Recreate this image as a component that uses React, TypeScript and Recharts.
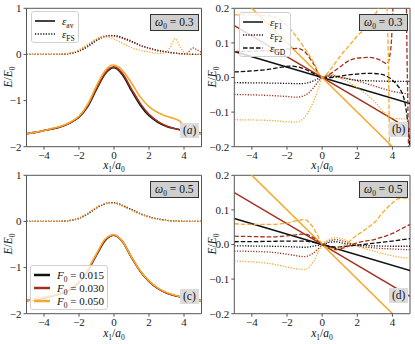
import React from "react";
import { LineChart, Line, XAxis, YAxis, ReferenceLine } from "recharts";

type Pt = [number, number];

const X_TICKS = [-4, -2, 0, 2, 4];
const ENERGY_TICKS = [-2, -1, 0, 1];
const FIELD_TICKS = [-0.2, -0.1, 0, 0.1, 0.2];
const F0_LABELS = ["0.015", "0.030", "0.050"];
const OMEGA_LABELS = ["0.3", "0.5"];
const PANEL_TAGS = ["a", "b", "c", "d"];

const BLACK = "#111111";
const RED = "#a3301e";
const ORANGE = "#f7a82a";
const COLORS = [BLACK, RED, ORANGE];
const FONT = "Liberation Serif";

// (a) omega0 = 0.3, averaged energy
const avA015: Pt[] = [[-5, -1.72], [-4.5, -1.69], [-4, -1.65], [-3.5, -1.61], [-3, -1.56], [-2.5, -1.48], [-2, -1.36], [-1.5, -1.13], [-1, -0.76], [-0.5, -0.42], [0, -0.29], [0.5, -0.45], [1, -0.79], [1.5, -1.1], [2, -1.33], [2.5, -1.47], [3, -1.56], [3.5, -1.61], [4, -1.65], [4.5, -1.69], [5, -1.72]];
const avA030: Pt[] = [[-5, -1.72], [-4.5, -1.69], [-4, -1.65], [-3.5, -1.61], [-3, -1.56], [-2.5, -1.48], [-2, -1.35], [-1.5, -1.11], [-1, -0.74], [-0.5, -0.4], [0, -0.27], [0.5, -0.42], [1, -0.75], [1.5, -1.06], [2, -1.3], [2.5, -1.45], [3, -1.55], [3.5, -1.61], [4, -1.65], [4.5, -1.69], [5, -1.71]];
const avA050: Pt[] = [[-5, -1.72], [-4.5, -1.69], [-4, -1.65], [-3.5, -1.6], [-3, -1.55], [-2.5, -1.47], [-2, -1.34], [-1.5, -1.08], [-1, -0.68], [-0.5, -0.35], [-0.1, -0.23], [0.3, -0.28], [0.7, -0.45], [1, -0.62], [1.5, -0.92], [2, -1.13], [2.5, -1.26], [3, -1.34], [3.5, -1.4], [3.8, -1.46], [4, -1.6], [4.2, -1.69], [4.6, -1.71], [5, -1.72]];
// (a) frozen-state energy
const fsA015: Pt[] = [[-5, 0], [-3.5, 0], [-3, 0.005], [-2.5, 0.02], [-2, 0.07], [-1.5, 0.17], [-1, 0.3], [-0.5, 0.39], [-0.2, 0.41], [0.2, 0.4], [0.6, 0.35], [1, 0.29], [1.5, 0.2], [2, 0.14], [2.5, 0.09], [3, 0.055], [3.5, 0.03], [4, 0.012], [4.5, 0.004], [5, 0]];
const fsA030: Pt[] = [[-5, 0], [-3.5, 0], [-3, 0.006], [-2.5, 0.025], [-2, 0.08], [-1.5, 0.19], [-1, 0.32], [-0.5, 0.4], [-0.2, 0.405], [0.2, 0.38], [0.6, 0.33], [1, 0.27], [1.5, 0.19], [2, 0.13], [2.5, 0.08], [3, 0.05], [3.5, 0.025], [4, 0.01], [4.2, 0.03], [4.5, 0.14], [4.75, 0.1], [5, 0.04]];
const fsA050: Pt[] = [[-5, 0], [-3.5, 0], [-3, 0.01], [-2.5, 0.035], [-2, 0.1], [-1.5, 0.22], [-1, 0.34], [-0.6, 0.38], [-0.2, 0.36], [0.2, 0.3], [0.6, 0.22], [1, 0.15], [1.5, 0.09], [2, 0.05], [2.5, 0.025], [2.9, 0.03], [3.2, 0.15], [3.5, 0.34], [3.8, 0.15], [4.1, 0.02], [4.5, 0.002], [5, 0]];

// (c) omega0 = 0.5
const avC015: Pt[] = [[-5, -1.72], [-4.5, -1.69], [-4, -1.66], [-3.5, -1.61], [-3, -1.56], [-2.5, -1.47], [-2, -1.32], [-1.5, -1.07], [-1, -0.73], [-0.5, -0.41], [0, -0.3], [0.5, -0.44], [1, -0.78], [1.5, -1.08], [2, -1.3], [2.5, -1.45], [3, -1.55], [3.5, -1.61], [4, -1.65], [4.5, -1.69], [5, -1.72]];
const avC030: Pt[] = [[-5, -1.72], [-4.5, -1.69], [-4, -1.66], [-3.5, -1.61], [-3, -1.56], [-2.5, -1.47], [-2, -1.32], [-1.5, -1.06], [-1, -0.72], [-0.5, -0.4], [0, -0.3], [0.5, -0.45], [1, -0.78], [1.5, -1.08], [2, -1.3], [2.5, -1.45], [3, -1.55], [3.5, -1.61], [4, -1.65], [4.5, -1.69], [5, -1.72]];
const avC050: Pt[] = [[-5, -1.72], [-4.5, -1.68], [-4, -1.64], [-3.5, -1.6], [-3, -1.54], [-2.5, -1.45], [-2, -1.3], [-1.5, -1.04], [-1, -0.7], [-0.5, -0.38], [0, -0.29], [0.5, -0.44], [1, -0.77], [1.5, -1.07], [2, -1.29], [2.5, -1.44], [3, -1.54], [3.5, -1.6], [4, -1.65], [4.5, -1.69], [5, -1.72]];
const fsC015: Pt[] = [[-5, 0], [-3.5, 0], [-3, 0.005], [-2.5, 0.02], [-2, 0.065], [-1.5, 0.16], [-1, 0.29], [-0.5, 0.38], [-0.2, 0.41], [0.2, 0.39], [0.6, 0.33], [1, 0.26], [1.5, 0.17], [2, 0.1], [2.5, 0.055], [3, 0.025], [3.5, 0.01], [4, 0.003], [5, 0]];
const fsC030: Pt[] = [[-5, 0], [-3.5, 0], [-3, 0.006], [-2.5, 0.022], [-2, 0.07], [-1.5, 0.17], [-1, 0.3], [-0.5, 0.385], [-0.2, 0.405], [0.2, 0.385], [0.6, 0.32], [1, 0.25], [1.5, 0.165], [2, 0.1], [2.5, 0.05], [3, 0.022], [3.5, 0.008], [4, 0.002], [5, 0]];
const fsC050: Pt[] = [[-5, 0], [-3.5, 0], [-3, 0.008], [-2.5, 0.026], [-2, 0.08], [-1.5, 0.18], [-1, 0.31], [-0.5, 0.39], [-0.2, 0.4], [0.2, 0.375], [0.6, 0.31], [1, 0.24], [1.5, 0.155], [2, 0.09], [2.5, 0.045], [3, 0.02], [3.5, 0.006], [4, 0.001], [5, 0]];

// (b) omega0 = 0.3, field estimates
const f1B015: Pt[] = [[-5, 0.075], [5, -0.075]];
const f1B030: Pt[] = [[-5, 0.15], [5, -0.15]];
const f1B050: Pt[] = [[-5, 0.25], [5, -0.25]];
const f2B015: Pt[] = [[-5, -0.015], [-3, -0.016], [-2, -0.017], [-1.2, -0.018], [-0.6, -0.012], [-0.2, -0.003], [0, 0], [0.4, 0.004], [1, 0], [2, -0.008], [3, -0.01], [4, -0.011], [5, -0.011]];
const f2B030: Pt[] = [[-5, -0.049], [-3, -0.052], [-2, -0.055], [-1.5, -0.057], [-1, -0.052], [-0.5, -0.03], [-0.2, -0.01], [0, 0], [0.5, 0.006], [1, 0.002], [2, -0.01], [3, -0.025], [4, -0.04], [5, -0.048]];
const f2B050: Pt[] = [[-5, -0.122], [-3, -0.124], [-2, -0.128], [-1.5, -0.129], [-1, -0.115], [-0.5, -0.07], [-0.2, -0.03], [0, 0], [0.5, 0.01], [1, 0], [2, -0.03], [3, -0.07], [3.5, -0.1], [4, -0.118], [5, -0.12]];
const gdB015: Pt[] = [[-5, 0.016], [-4, 0.019], [-3, 0.024], [-2.3, 0.03], [-1.8, 0.033], [-1.2, 0.028], [-0.6, 0.015], [0, 0], [0.5, 0], [1, 0.004], [2, 0.01], [2.7, 0.012], [3.3, 0.01], [3.8, 0], [4.2, -0.018], [4.5, -0.04], [4.7, -0.07], [4.85, -0.12], [5, -0.2]];
const gdB030: Pt[] = [[-5, 0.075], [-4, 0.076], [-3, 0.078], [-2, 0.082], [-1.4, 0.084], [-1, 0.075], [-0.5, 0.04], [0, 0], [0.5, 0.012], [1, 0.03], [1.5, 0.048], [2, 0.056], [2.7, 0.058], [3.3, 0.05], [3.7, 0.04], [3.9, 0.08], [4, 0.16], [4.1, 0.3], [4.75, 0.3], [4.85, 0], [4.95, -0.3]];
const gdB050: Pt[] = [[-5, 0.181], [-4, 0.181], [-3, 0.178], [-2.5, 0.17], [-2, 0.15], [-1.5, 0.12], [-1, 0.085], [-0.5, 0.045], [0, 0], [0.5, 0.025], [1, 0.06], [1.5, 0.09], [2, 0.12], [2.5, 0.145], [3, 0.18], [3.3, 0.22], [3.5, 0.35], [3.75, 0.1], [3.85, -0.3]];

// (d) omega0 = 0.5, field estimates
const f1D015: Pt[] = [[-5, 0.075], [5, -0.075]];
const f1D030: Pt[] = [[-5, 0.15], [5, -0.15]];
const f1D050: Pt[] = [[-5, 0.25], [5, -0.25]];
const f2D015: Pt[] = [[-5, -0.004], [-3, -0.005], [-2, -0.006], [-1, -0.008], [-0.5, -0.005], [0, 0], [0.4, 0.006], [0.8, 0.008], [1.2, 0.004], [2, -0.002], [3, -0.004], [4, -0.005], [5, -0.005]];
const f2D030: Pt[] = [[-5, -0.019], [-3, -0.022], [-2, -0.028], [-1, -0.035], [-0.5, -0.025], [0, -0.002], [0.4, 0.01], [0.8, 0.014], [1.2, 0.01], [2, -0.004], [3, -0.01], [4, -0.013], [5, -0.015]];
const f2D050: Pt[] = [[-5, -0.048], [-4, -0.05], [-3, -0.055], [-2, -0.065], [-1.5, -0.07], [-1, -0.072], [-0.5, -0.05], [-0.2, -0.02], [0, 0], [0.4, 0.015], [0.8, 0.02], [1.2, 0.015], [2, -0.005], [3, -0.02], [4, -0.033], [5, -0.04]];
const gdD015: Pt[] = [[-5, 0.008], [-3, 0.009], [-2, 0.01], [-1, 0.01], [-0.5, 0.006], [0, 0], [0.5, -0.006], [0.8, -0.008], [1.2, -0.006], [2, -0.002], [3, 0.004], [4, 0.01], [5, 0.017]];
const gdD030: Pt[] = [[-5, 0.024], [-4, 0.023], [-3, 0.022], [-2, 0.025], [-1.5, 0.028], [-1, 0.03], [-0.5, 0.02], [0, 0], [0.5, -0.012], [0.8, -0.015], [1.2, -0.01], [2, 0.005], [3, 0.015], [4, 0.032], [4.5, 0.045], [5, 0.058]];
const gdD050: Pt[] = [[-5, 0.06], [-4, 0.058], [-3, 0.058], [-2, 0.062], [-1.5, 0.068], [-1, 0.072], [-0.6, 0.055], [-0.2, 0.02], [0, 0], [0.4, -0.01], [0.8, -0.012], [1.2, -0.005], [1.8, 0.02], [2.5, 0.045], [3, 0.065], [3.5, 0.095], [4, 0.12], [4.3, 0.132], [4.7, 0.134], [5, 0.13]];

type Series = { pts: Pt[]; color: string; style: "solid" | "dot" | "dash"; w?: number };

const DASH = { solid: undefined, dot: "1.2 1.5", dash: "4.5 2" };

const toRows = (pts: Pt[]) => pts.map(([x, y]) => ({ x, y }));
const minus = (s: string) => s.replace("-", "\u2212");

function Panel(props: {
  left: number;
  top: number;
  width: number;
  yWidth: number;
  right: number;
  domain: [number, number];
  ticks: number[];
  digits: number;
  series: Series[];
}) {
  const { left, top, width, yWidth, right, domain, ticks, digits, series } = props;
  const tickStyle = { fontSize: 11, fill: "#222", fontFamily: FONT };
  return (
    <div style={{ position: "absolute", left, top }}>
      <LineChart width={width} height={170} margin={{ top: 8.3, right, bottom: 0, left: 0 }}>
        <XAxis
          dataKey="x"
          type="number"
          domain={[-5, 5]}
          ticks={X_TICKS}
          allowDataOverflow
          height={23.3}
          tickSize={3}
          tickMargin={1}
          stroke="#555"
          tick={tickStyle}
          tickFormatter={(v: number) => minus(String(v))}
        />
        <YAxis
          type="number"
          domain={domain}
          ticks={ticks}
          allowDataOverflow
          width={yWidth}
          tickSize={3}
          tickMargin={2}
          stroke="#555"
          tick={tickStyle}
          tickFormatter={(v: number) => minus(v.toFixed(digits))}
        />
        <ReferenceLine y={domain[1]} stroke="#555" />
        <ReferenceLine x={5} stroke="#555" />
        {series.map((s, i) => (
          <Line
            key={i}
            data={toRows(s.pts)}
            dataKey="y"
            type={s.pts.length > 2 ? "monotone" : "linear"}
            stroke={s.color}
            strokeWidth={s.w ?? (s.style === "solid" ? 1.5 : 1.3)}
            strokeDasharray={DASH[s.style]}
            dot={false}
            activeDot={false}
            isAnimationActive={false}
          />
        ))}
      </LineChart>
    </div>
  );
}

const abs = (left: number, top: number, extra: React.CSSProperties = {}): React.CSSProperties => ({
  position: "absolute",
  left,
  top,
  fontFamily: FONT,
  color: "#111",
  ...extra,
});

const Sub = ({ children }: { children: React.ReactNode }) => (
  <sub style={{ fontSize: 7.5, lineHeight: 0 }}>{children}</sub>
);

function Sample({ color, style, w }: { color: string; style: "solid" | "dot" | "dash"; w: number }) {
  return (
    <svg width={20} height={6} style={{ display: "block" }}>
      <line x1={0} y1={3} x2={20} y2={3} stroke={color} strokeWidth={w} strokeDasharray={DASH[style]} />
    </svg>
  );
}

function LegendBox({ left, top, width, rows }: { left: number; top: number; width: number; rows: { color: string; style: "solid" | "dot" | "dash"; w: number; label: React.ReactNode }[] }) {
  return (
    <div
      style={abs(left, top, {
        width,
        background: "rgba(255,255,255,0.8)",
        border: "1px solid #d0d0d0",
        borderRadius: 3,
        padding: "2px 3px",
        boxSizing: "border-box",
        fontSize: 11,
      })}
    >
      {rows.map((r, i) => (
        <div key={i} style={{ display: "flex", alignItems: "center", height: 13 }}>
          <Sample color={r.color} style={r.style} w={r.w} />
          <span style={{ marginLeft: 7, whiteSpace: "nowrap" }}>{r.label}</span>
        </div>
      ))}
    </div>
  );
}

const eps = (sub: string) => (
  <span>
    <i>ε</i>
    <Sub>{sub}</Sub>
  </span>
);

function OmegaBox({ left, top, value }: { left: number; top: number; value: string }) {
  return (
    <div
      style={abs(left, top, {
        background: "#cfcfcf",
        border: "1px solid #333",
        padding: "0 4px",
        fontSize: 11.5,
        lineHeight: "15px",
        whiteSpace: "nowrap",
      })}
    >
      <i>ω</i>
      <Sub>0</Sub> = {value}
    </div>
  );
}

function TagBox({ left, top, tag }: { left: number; top: number; tag: string }) {
  return (
    <div style={abs(left, top, { background: "#dcdcdc", padding: "0 3px", fontSize: 11.5, lineHeight: "15px" })}>
      ({tag === "a" ? <i>a</i> : tag})
    </div>
  );
}

function XLabel({ cx, top }: { cx: number; top: number }) {
  return (
    <div style={abs(cx - 25, top, { width: 50, textAlign: "center", fontSize: 11.5, lineHeight: "11px", whiteSpace: "nowrap" })}>
      <i>x</i>
      <Sub>1</Sub>/<i>a</i>
      <Sub>0</Sub>
    </div>
  );
}

function YLabel({ cx, cy }: { cx: number; cy: number }) {
  return (
    <div
      style={abs(cx - 20, cy - 7, {
        width: 40,
        height: 14,
        lineHeight: "14px",
        textAlign: "center",
        fontSize: 11.5,
        transform: "rotate(-90deg)",
        whiteSpace: "nowrap",
      })}
    >
      <i>E</i>/<i>E</i>
      <Sub>0</Sub>
    </div>
  );
}

const trio = (list: Pt[][], style: "solid" | "dot" | "dash", w?: number): Series[] =>
  list.map((pts, i) => ({ pts, color: COLORS[i], style, w }));

export default function App() {
  const seriesA = [...trio([avA015, avA030, avA050], "solid", 1.6), ...trio([fsA015, fsA030, fsA050], "dot")];
  const seriesC = [...trio([avC015, avC030, avC050], "solid", 1.6), ...trio([fsC015, fsC030, fsC050], "dot")];
  const seriesB = [
    ...trio([f1B015, f1B030, f1B050], "solid"),
    ...trio([f2B015, f2B030, f2B050], "dot"),
    ...trio([gdB015, gdB030, gdB050], "dash"),
  ];
  const seriesD = [
    ...trio([f1D015, f1D030, f1D050], "solid"),
    ...trio([f2D015, f2D030, f2D050], "dot"),
    ...trio([gdD015, gdD030, gdD050], "dash"),
  ];

  return (
    <div style={{ position: "absolute", left: 0, top: 0, width: 415, height: 344, background: "#fff", overflow: "hidden" }}>
      <Panel left={0} top={0} width={205} yWidth={26.5} right={3.5} domain={[-2, 1]} ticks={ENERGY_TICKS} digits={0} series={seriesA} />
      <Panel left={205} top={0} width={207} yWidth={29.3} right={2} domain={[-0.2, 0.2]} ticks={FIELD_TICKS} digits={1} series={seriesB} />
      <Panel left={0} top={167} width={205} yWidth={26.5} right={3.5} domain={[-2, 1]} ticks={ENERGY_TICKS} digits={0} series={seriesC} />
      <Panel left={205} top={167} width={207} yWidth={29.3} right={2} domain={[-0.2, 0.2]} ticks={FIELD_TICKS} digits={1} series={seriesD} />

      <XLabel cx={114} top={160} />
      <XLabel cx={322} top={160} />
      <XLabel cx={114} top={328} />
      <XLabel cx={322} top={328} />
      <YLabel cx={8} cy={77} />
      <YLabel cx={212} cy={77} />
      <YLabel cx={8} cy={244} />
      <YLabel cx={212} cy={244} />

      <OmegaBox left={150} top={14} value={OMEGA_LABELS[0]} />
      <OmegaBox left={359} top={14} value={OMEGA_LABELS[0]} />
      <OmegaBox left={150} top={181} value={OMEGA_LABELS[1]} />
      <OmegaBox left={359} top={181} value={OMEGA_LABELS[1]} />

      <TagBox left={180} top={123} tag={PANEL_TAGS[0]} />
      <TagBox left={389} top={122} tag={PANEL_TAGS[1]} />
      <TagBox left={180} top={289} tag={PANEL_TAGS[2]} />
      <TagBox left={389} top={288} tag={PANEL_TAGS[3]} />

      <LegendBox
        left={31}
        top={11}
        width={48}
        rows={[
          { color: BLACK, style: "solid", w: 1.6, label: eps("av") },
          { color: BLACK, style: "dot", w: 1.3, label: eps("FS") },
        ]}
      />
      <LegendBox
        left={239}
        top={12}
        width={52}
        rows={[
          { color: BLACK, style: "solid", w: 1.5, label: eps("F1") },
          { color: BLACK, style: "dot", w: 1.3, label: eps("F2") },
          { color: BLACK, style: "dash", w: 1.3, label: eps("GD") },
        ]}
      />
      <LegendBox
        left={30}
        top={265}
        width={78}
        rows={F0_LABELS.map((f, i) => ({
          color: COLORS[i],
          style: "solid" as const,
          w: 2.5,
          label: (
            <span>
              <i>F</i>
              <Sub>0</Sub> = {f}
            </span>
          ),
        }))}
      />
    </div>
  );
}
